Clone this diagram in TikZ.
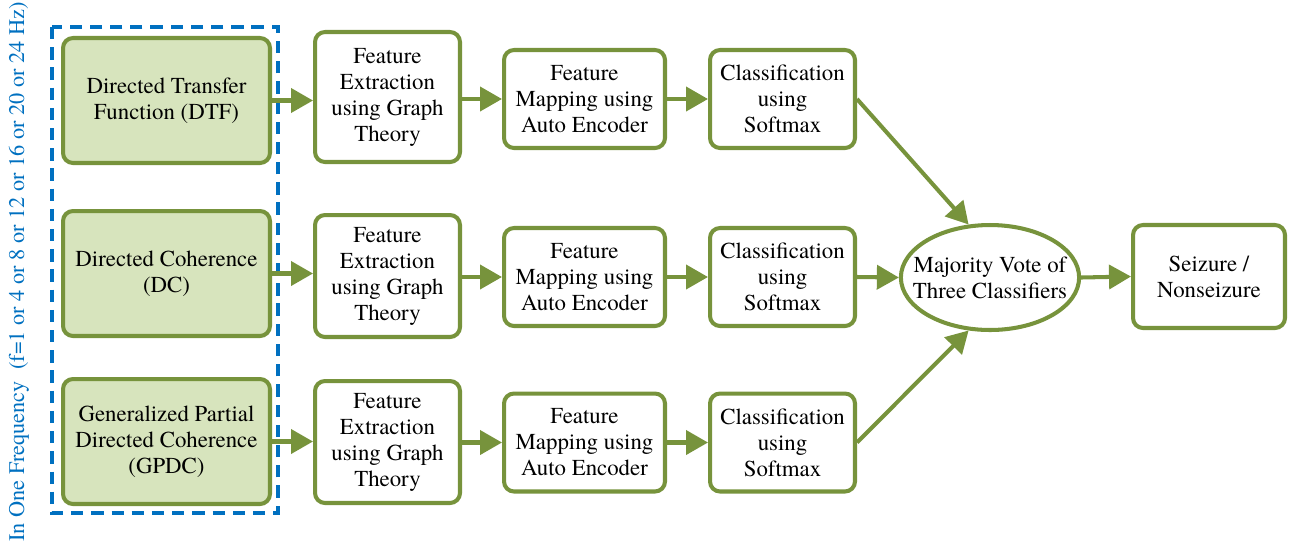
\documentclass[tikz,border=0pt]{standalone}
\usepackage{fontspec}
\IfFontExistsTF{texgyretermes-regular.otf}{\setmainfont{texgyretermes-regular.otf}}{}
\usepackage{xcolor}
\usepackage{tikz}
\usetikzlibrary{arrows.meta,shapes,calc}
\definecolor{olive}{HTML}{77933C}
\definecolor{lightolive}{HTML}{D7E4BD}
\definecolor{blueline}{HTML}{0070C0}
\tikzstyle{blk}=[rectangle, draw=olive, rounded corners=0.2cm, line width=2.3pt,% white box with green frame
align=center, font=\fontsize{13}{14.8}\selectfont, inner sep=1pt]
\tikzstyle{srcblk}=[blk, fill=lightolive, minimum width=4.14cm, minimum height=2.5cm]
\tikzstyle{vote}=[ellipse, draw=olive, line width=2.3pt, align=center,
font=\fontsize{13}{14.8}\selectfont, minimum width=3.48cm, minimum height=2.1cm, inner xsep=-8pt, inner ysep=0pt]
\tikzstyle{arr}=[-{Triangle[length=0.44cm,width=0.48cm]}, draw=olive, fill=olive, line width=2.3pt]

\begin{document}
\begin{tikzpicture}[x=0.02cm,y=-0.02cm]
\useasboundingbox (0,0) rectangle (1293,542);

\node[srcblk] (dtf) at (166.5,100.5) {Directed Transfer\\Function (DTF)};
\node[srcblk] (dc) at (166.5,273.5) {Directed Coherence\\(DC)};
\node[srcblk] (gpdc) at (166.5,441.5) {Generalized Partial\\Directed Coherence\\(GPDC)};

\draw[blueline, line width=1.8pt, dash pattern=on 7pt off 4.5pt] (52,27) rectangle (278,513);
\node[rotate=90, text=blueline, font=\fontsize{12.7}{15}\selectfont] (freq) at (19,272)
  {In One Frequency\ \ (f=1 or 4 or 8 or 12 or 16 or 20 or 24 Hz)};

\node[blk, minimum width=2.9cm, minimum height=2.6cm] (fe1) at (387.5,97) {Feature\\Extraction\\using Graph\\Theory};
\node[blk, minimum width=2.9cm, minimum height=2.44cm] (fe2) at (387.5,276) {Feature\\Extraction\\using Graph\\Theory};
\node[blk, minimum width=2.9cm, minimum height=2.44cm] (fe3) at (387.5,442) {Feature\\Extraction\\using Graph\\Theory};

\node[blk, minimum width=3.22cm, minimum height=1.96cm] (fm1) at (584.5,99) {Feature\\Mapping using\\Auto Encoder};
\node[blk, minimum width=3.22cm, minimum height=1.96cm] (fm2) at (584.5,277) {Feature\\Mapping using\\Auto Encoder};
\node[blk, minimum width=3.22cm, minimum height=1.96cm] (fm3) at (584.5,442.5) {Feature\\Mapping using\\Auto Encoder};

\node[blk, minimum width=2.9cm, minimum height=1.96cm] (cls1) at (782.5,99) {Classification\\using\\Softmax};
\node[blk, minimum width=2.9cm, minimum height=1.96cm] (cls2) at (782.5,277) {Classification\\using\\Softmax};
\node[blk, minimum width=2.9cm, minimum height=1.96cm] (cls3) at (782.5,442.5) {Classification\\using\\Softmax};

\node[vote] (mv) at (990,277.5) {Majority Vote of\\Three Classifiers};
\node[blk, minimum width=3.04cm, minimum height=2.06cm] (out) at (1209,276.5) {Seizure /\\Nonseizure};

\draw[arr] (dtf.east) -- (dtf.east -| fe1.west);
\draw[arr] (dc.east) -- (dc.east -| fe2.west);
\draw[arr] (gpdc.east) -- (gpdc.east -| fe3.west);

\draw[arr] (fm1.west -| fe1.east) -- (fm1.west);
\draw[arr] (fm2.west -| fe2.east) -- (fm2.west);
\draw[arr] (fm3.west -| fe3.east) -- (fm3.west);

\draw[arr] (fm1.east) -- (cls1.west);
\draw[arr] (fm2.east) -- (cls2.west);
\draw[arr] (fm3.east) -- (cls3.west);

\draw[arr] (cls1.east) -- (mv.112);
\draw[arr] (cls2.east) -- (mv.west);
\draw[arr] (cls3.east) -- (mv.248);
\draw[arr] (mv.east) -- (out.west);

\end{tikzpicture}
\end{document}
